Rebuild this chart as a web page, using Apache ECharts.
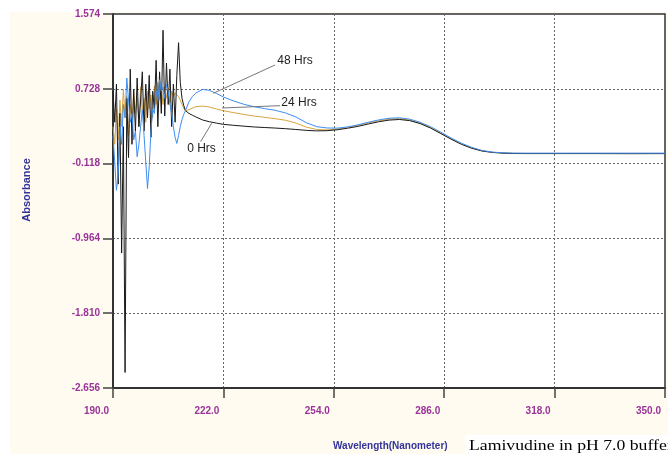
<!DOCTYPE html>
<html><head><meta charset="utf-8">
<script src="https://cdn.jsdelivr.net/npm/echarts@6/dist/echarts.min.js"></script>
<style>html,body{margin:0;padding:0;background:#fff}#c{width:668px;height:454px}</style>
</head><body><div id="c"></div>
<script>
// ---- data ----
const xTicks = [190, 222, 254, 286, 318, 350];
const yTicks = [-2.656, -1.810, -0.964, -0.118, 0.728, 1.574];

const noisyWl = [190,190.5,191,191.5,192,192.5,193,193.5,194,194.5,195,195.5,196,196.5,197,197.5,198,198.5,199,199.5,200,200.5,201,201.5,202,202.5,203,203.5,204,204.5,205,205.5,206,206.5,207,207.5,208,208.5,209,209.5,210,210.5,211];
const smoothWl = [212,213,214,216,218,220,222,225,228,231,234,237,240,243,246,249,252,255,258,261,264,267,270,273,276,279,282,285,288,291,294,297,300,303,306,310,320,330,340,350];

const hrs0Noisy = [0.70,0.35,0.78,-0.35,0.45,-1.13,0.30,-2.48,0.62,-0.05,0.95,0.10,0.72,0.25,0.85,0.30,0.60,0.92,0.25,0.78,0.40,0.88,0.18,0.70,0.50,1.05,0.30,0.92,0.45,1.39,0.42,1.02,0.55,0.95,0.30,0.78,0.35,0.88,1.25,0.80,0.62,0.54,0.48];
const hrs0Smooth = [0.45,0.43,0.41,0.375,0.355,0.34,0.326,0.315,0.305,0.296,0.29,0.284,0.277,0.268,0.258,0.252,0.254,0.265,0.282,0.303,0.33,0.355,0.374,0.381,0.368,0.335,0.285,0.222,0.158,0.10,0.055,0.024,0.008,0.0,-0.004,-0.005,-0.005,-0.005,-0.006,-0.005];

const hrs24Noisy = [0.30,0.10,0.50,0.15,0.60,0.30,0.72,0.40,0.65,0.20,0.55,0.30,0.70,0.45,0.62,0.30,0.75,0.45,0.62,0.35,0.70,0.50,0.66,0.40,0.76,0.55,0.80,0.60,0.72,0.55,0.76,0.62,0.74,0.58,0.70,0.64,0.68,0.66,0.64,0.60,0.55,0.51,0.48];
const hrs24Smooth = [0.49,0.51,0.525,0.533,0.522,0.50,0.48,0.458,0.437,0.42,0.405,0.39,0.372,0.34,0.295,0.268,0.263,0.272,0.29,0.315,0.342,0.366,0.384,0.39,0.375,0.34,0.29,0.225,0.162,0.105,0.06,0.027,0.01,0.002,-0.002,-0.003,-0.003,-0.003,-0.003,-0.003];

const hrs48Noisy = [0.20,-0.10,-0.42,-0.25,0.30,0.10,0.55,0.40,0.85,0.60,0.35,0.45,0.15,0.25,-0.04,0.10,0.30,0.49,0.20,-0.10,-0.40,-0.15,0.25,0.50,0.45,0.70,0.60,0.83,0.70,0.75,0.62,0.78,0.70,0.55,0.45,0.30,0.18,0.11,0.20,0.30,0.38,0.44,0.48];
const hrs48Smooth = [0.58,0.64,0.68,0.722,0.71,0.675,0.635,0.59,0.552,0.525,0.503,0.485,0.455,0.41,0.345,0.30,0.285,0.283,0.297,0.32,0.35,0.376,0.395,0.40,0.385,0.35,0.30,0.238,0.172,0.112,0.065,0.03,0.012,0.004,0.001,0.0,0.0,0.0,0.0,0.0];

const seriesNames = ['0 Hrs', '24 Hrs', '48 Hrs'];
const annotations = [
  {text: '48 Hrs', from: [219.07, 0.677], to: [236.96, 0.997], label: [242.75, 1.048]},
  {text: '24 Hrs', from: [221.6, 0.511], to: [238.4, 0.537], label: [243.9, 0.567]},
  {text: '0 Hrs',  from: [218.6, 0.338], to: [215.4, 0.13],  label: [215.65, 0.053]}
];

// ---- chart ----
const wl = noisyWl.concat(smoothWl);
const pairs = (a, b) => wl.map((w, i) => [w, a.concat(b)[i]]);
const chart = echarts.init(document.getElementById('c'));
const purple = '#993399';
chart.setOption({
  backgroundColor: '#FFFBF0',
  animation: false,
  grid: {left: 113, right: 3, top: 14, bottom: 66, show: true, backgroundColor: '#ffffff', borderWidth: 1.5, borderColor: '#333', outerBoundsMode: 'none', containLabel: false},
  xAxis: {
    type: 'value', min: xTicks[0], max: xTicks[xTicks.length - 1],
    axisLine: {show: true, onZero: false, lineStyle: {color: '#333', width: 2}},
    axisTick: {show: true, length: 10, customValues: xTicks, lineStyle: {color: '#444', width: 1.5}},
    axisLabel: {customValues: xTicks, formatter: v => Number(v).toFixed(1), color: purple, fontSize: 10, fontWeight: 'bold', fontFamily: 'Liberation Sans, Arial, sans-serif', align: 'right', padding: [0, 4, 0, 0], margin: 18, showMinLabel: true, showMaxLabel: true},
    splitLine: {show: true, lineStyle: {color: '#666', type: [2, 2], width: 1}}
  },
  yAxis: {
    type: 'value', min: yTicks[0], max: yTicks[yTicks.length - 1],
    axisLine: {show: true, onZero: false, lineStyle: {color: '#333', width: 2}},
    axisTick: {show: true, length: 10, customValues: yTicks, lineStyle: {color: '#444', width: 1.5}},
    axisLabel: {customValues: yTicks, formatter: v => Number(v).toFixed(3), color: purple, fontSize: 10, fontWeight: 'bold', fontFamily: 'Liberation Sans, Arial, sans-serif', margin: 13, verticalAlign: 'middle', padding: [8, 0, 0, 0], showMinLabel: true, showMaxLabel: true},
    splitLine: {show: true, lineStyle: {color: '#666', type: [2, 2], width: 1}}
  },
  series: [
    {name: seriesNames[0], type: 'line', data: pairs(hrs0Noisy, hrs0Smooth), showSymbol: false, lineStyle: {color: '#1a1a1a', width: 1}, z: 3},
    {name: seriesNames[1], type: 'line', data: pairs(hrs24Noisy, hrs24Smooth), showSymbol: false, lineStyle: {color: '#D9A33F', width: 1}, z: 2},
    {name: seriesNames[2], type: 'line', data: pairs(hrs48Noisy, hrs48Smooth), showSymbol: false, lineStyle: {color: '#3E8EF0', width: 1}, z: 4}
  ]
});

const px = p => chart.convertToPixel({gridIndex: 0}, p);
const g = [
  {type: 'rect', shape: {x: 0, y: 0, width: 10, height: 454}, style: {fill: '#ffffff'}, silent: true},
  {type: 'rect', shape: {x: 0, y: 0, width: 668, height: 12}, style: {fill: '#ffffff'}, silent: true},
  {type: 'text', x: 27, y: 190, rotation: Math.PI / 2, style: {text: 'Absorbance', fill: '#333399', font: 'bold 11px "Liberation Sans", Arial, sans-serif', align: 'center', verticalAlign: 'middle'}},
  {type: 'text', x: 333, y: 446, style: {text: 'Wavelength(Nanometer)', fill: '#333399', font: 'bold 10px "Liberation Sans", Arial, sans-serif', align: 'left', verticalAlign: 'middle'}},
  {type: 'rect', shape: {x: 465, y: 435, width: 203, height: 19}, style: {fill: '#ffffff'}, silent: true},
  {type: 'text', x: 469, y: 446, scaleX: 1.18, style: {text: 'Lamivudine in pH 7.0 buffer', fill: '#000', font: '15px "Liberation Serif", "Times New Roman", serif', align: 'left', verticalAlign: 'middle'}}
];
annotations.forEach(a => {
  const f = px(a.from), t = px(a.to), l = px(a.label);
  g.push({type: 'line', shape: {x1: f[0], y1: f[1], x2: t[0], y2: t[1]}, style: {stroke: '#777', lineWidth: 1}, z: 10});
  g.push({type: 'text', x: l[0], y: l[1], style: {text: a.text, fill: '#222', font: '12px "Liberation Sans", Arial, sans-serif', align: 'center', verticalAlign: 'middle'}, z: 10});
});
chart.setOption({graphic: g});
</script>
</body></html>
